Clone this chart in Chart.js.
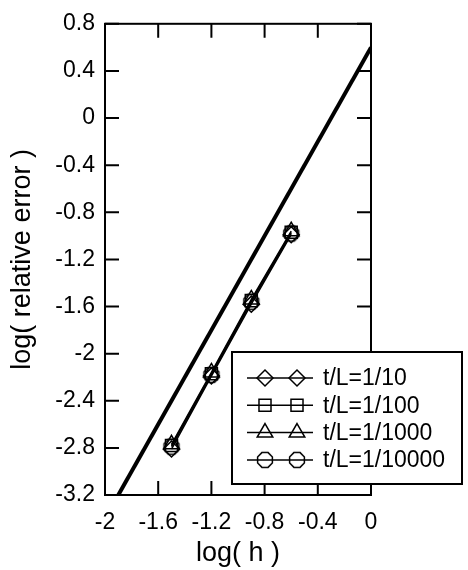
<!DOCTYPE html>
<html>
<head>
<meta charset="utf-8">
<script src="https://cdn.jsdelivr.net/npm/chart.js@4.4.1/dist/chart.umd.min.js"></script>
<style>
  html, body { margin: 0; padding: 0; background: #fff; }
  canvas { display: block; }
</style>
</head>
<body>
<canvas id="chart" width="468" height="570"></canvas>
<script>
'use strict';

// log(h) at each mesh
var logH = [-1.5, -1.2, -0.9, -0.6];

// log(relative error) per thickness ratio
var err10 = [-2.81, -2.19, -1.58, -0.99];
var err100 = [-2.78, -2.17, -1.55, -0.97];
var err1000 = [-2.77, -2.16, -1.54, -0.96];
var err10000 = [-2.79, -2.18, -1.56, -0.98];

var seriesNames = ['t/L=1/10', 't/L=1/100', 't/L=1/1000', 't/L=1/10000'];

// reference slope line
var refX = [-1.9, 0];
var refY = [-3.2, 0.6];

var xTicks = [-2, -1.6, -1.2, -0.8, -0.4, 0];
var yTicks = [0.8, 0.4, 0, -0.4, -0.8, -1.2, -1.6, -2, -2.4, -2.8, -3.2];

var FONT = 'Liberation Sans, Arial, Helvetica, sans-serif';

function octagon(r) {
  var c = document.createElement('canvas');
  var s = Math.ceil(2 * r + 4);
  c.width = s;
  c.height = s;
  var g = c.getContext('2d');
  g.beginPath();
  for (var i = 0; i < 8; i++) {
    var a = Math.PI / 8 + i * Math.PI / 4;
    var px = s / 2 + r * Math.cos(a);
    var py = s / 2 + r * Math.sin(a);
    if (i === 0) g.moveTo(px, py); else g.lineTo(px, py);
  }
  g.closePath();
  g.lineWidth = 1.5;
  g.strokeStyle = '#000';
  g.stroke();
  return c;
}

function pts(xs, ys) {
  var out = [];
  for (var i = 0; i < xs.length; i++) {
    out.push({ x: xs[i], y: ys[i] });
  }
  return out;
}

var markers = [
  { style: 'rectRot', radius: 8 },
  { style: 'rect', radius: 8.5 },
  { style: 'triangle', radius: 9 },
  { style: octagon(8), radius: 8 }
];
var seriesData = [err10, err100, err1000, err10000];

var datasets = [];
for (var i = 0; i < seriesData.length; i++) {
  datasets.push({
    label: seriesNames[i],
    data: pts(logH, seriesData[i]),
    showLine: true,
    borderColor: '#000',
    borderWidth: 1.5,
    backgroundColor: 'rgba(0,0,0,0)',
    pointStyle: markers[i].style,
    pointRadius: markers[i].radius,
    pointBorderWidth: 1.5,
    pointBackgroundColor: 'rgba(0,0,0,0)',
    pointBorderColor: '#000'
  });
}
datasets.push({
  label: 'slope',
  data: pts(refX, refY),
  showLine: true,
  borderColor: '#000',
  borderWidth: 4,
  pointRadius: 0
});

// box round the plot with inward ticks on all four sides
var frame = {
  id: 'frame',
  afterDatasetsDraw: function (chart) {
    var ctx = chart.ctx;
    var a = chart.chartArea;
    var xs = chart.scales.x;
    var ys = chart.scales.y;
    var len = 14;
    ctx.save();
    ctx.strokeStyle = '#000';
    ctx.lineWidth = 2;
    ctx.strokeRect(a.left, a.top, a.right - a.left, a.bottom - a.top);
    ctx.beginPath();
    xTicks.forEach(function (v) {
      var px = xs.getPixelForValue(v);
      ctx.moveTo(px, a.bottom);
      ctx.lineTo(px, a.bottom - len);
      ctx.moveTo(px, a.top);
      ctx.lineTo(px, a.top + len);
    });
    yTicks.forEach(function (v) {
      var py = ys.getPixelForValue(v);
      ctx.moveTo(a.left, py);
      ctx.lineTo(a.left + len, py);
      ctx.moveTo(a.right, py);
      ctx.lineTo(a.right - len, py);
    });
    ctx.stroke();
    ctx.restore();
  }
};

// boxed legend in the lower right, drawn over the frame
var boxLegend = {
  id: 'boxLegend',
  afterDraw: function (chart) {
    var ctx = chart.ctx;
    var left = 232, top = 352, right = 462, bottom = 484;
    ctx.save();
    ctx.fillStyle = '#fff';
    ctx.fillRect(left, top, right - left, bottom - top);
    ctx.strokeStyle = '#000';
    ctx.lineWidth = 2;
    ctx.strokeRect(left, top, right - left, bottom - top);
    ctx.font = '23px ' + FONT;
    ctx.textBaseline = 'middle';
    ctx.textAlign = 'left';
    for (var k = 0; k < seriesNames.length; k++) {
      var ds = chart.data.datasets[k];
      var y = 378 + k * 27.3;
      ctx.beginPath();
      ctx.lineWidth = 1.5;
      ctx.moveTo(247, y);
      ctx.lineTo(313, y);
      ctx.stroke();
      ctx.fillStyle = 'rgba(0,0,0,0)';
      ctx.lineWidth = 1.5;
      var opts = { pointStyle: ds.pointStyle, radius: ds.pointRadius, borderWidth: 1.5, rotation: 0 };
      Chart.helpers.drawPoint(ctx, opts, 265, y);
      Chart.helpers.drawPoint(ctx, opts, 297, y);
      ctx.fillStyle = '#000';
      ctx.fillText(seriesNames[k], 323, y + 1);
    }
    ctx.restore();
  }
};

new Chart(document.getElementById('chart').getContext('2d'), {
  type: 'scatter',
  data: { datasets: datasets },
  options: {
    responsive: false,
    animation: false,
    events: [],
    layout: { padding: { left: 0, top: 17, right: 97, bottom: 0 } },
    plugins: {
      legend: { display: false },
      tooltip: { enabled: false }
    },
    scales: {
      x: {
        type: 'linear',
        min: -2,
        max: 0,
        afterBuildTicks: function (scale) {
          scale.ticks = xTicks.map(function (v) { return { value: v }; });
        },
        afterFit: function (scale) { scale.height = 75; },
        grid: { display: false, drawTicks: false },
        border: { display: false },
        ticks: {
          color: '#000',
          padding: 14,
          maxRotation: 0,
          font: { family: FONT, size: 23 },
          callback: function (v) { return String(v === 0 ? 0 : v); }
        },
        title: {
          display: true,
          text: 'log( h )',
          color: '#000',
          padding: { top: 0, bottom: 0 },
          font: { family: FONT, size: 27 }
        }
      },
      y: {
        type: 'linear',
        min: -3.2,
        max: 0.8,
        afterBuildTicks: function (scale) {
          scale.ticks = yTicks.map(function (v) { return { value: v }; });
        },
        afterFit: function (scale) { scale.width = 105; },
        grid: { display: false, drawTicks: false },
        border: { display: false },
        ticks: {
          color: '#000',
          padding: 10,
          font: { family: FONT, size: 23 },
          callback: function (v) { return String(v === 0 ? 0 : v); }
        },
        title: {
          display: true,
          text: 'log( relative error )',
          color: '#000',
          padding: { top: 6, bottom: 0 },
          font: { family: FONT, size: 27 }
        }
      }
    }
  },
  plugins: [frame, boxLegend]
});
</script>
</body>
</html>
